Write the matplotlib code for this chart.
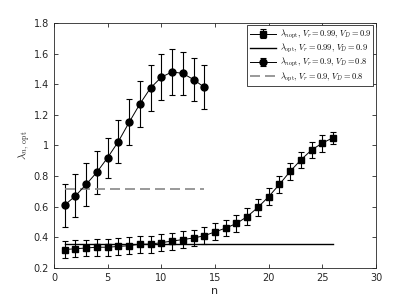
import matplotlib
matplotlib.use("Agg")
import matplotlib.pyplot as plt

plt.rcParams['mathtext.fontset'] = 'cm'
plt.rcParams['font.family'] = 'DejaVu Sans'

# series 1: V_r = 0.99, V_D = 0.9 (squares)
n_sq = list(range(1, 27))
lam_sq = [0.32, 0.325, 0.33, 0.335, 0.335, 0.34, 0.345, 0.355, 0.355, 0.365,
          0.375, 0.385, 0.395, 0.41, 0.435, 0.46, 0.49, 0.535, 0.595, 0.665,
          0.745, 0.83, 0.905, 0.97, 1.015, 1.05]
err_sq = [0.055, 0.055, 0.055, 0.055, 0.055, 0.055, 0.055, 0.055, 0.055, 0.055,
          0.055, 0.055, 0.055, 0.055, 0.055, 0.055, 0.055, 0.055, 0.055, 0.055,
          0.055, 0.055, 0.055, 0.055, 0.055, 0.04]
lam_opt_sq = 0.355

# series 2: V_r = 0.9, V_D = 0.8 (circles)
n_ci = list(range(1, 15))
lam_ci = [0.61, 0.67, 0.745, 0.825, 0.92, 1.025, 1.15, 1.27, 1.375, 1.445,
          1.48, 1.47, 1.43, 1.38]
err_ci = [0.14, 0.14, 0.14, 0.14, 0.13, 0.14, 0.15, 0.15, 0.15, 0.15,
          0.15, 0.14, 0.14, 0.145]
lam_opt_ci = 0.715

fig = plt.figure(figsize=(4.15, 3.01), dpi=100)
ax = fig.add_axes([0.130, 0.110, 0.776, 0.814])

h1 = ax.errorbar(n_sq, lam_sq, yerr=err_sq, color='black', marker='s', markersize=4,
                 linewidth=0.7, elinewidth=0.8, capsize=2.5, capthick=0.8,
                 label=r'$\lambda_{n\mathrm{opt}},\,V_r=0.99,\,V_D=0.9$')
h2, = ax.plot([n_sq[0], n_sq[-1]], [lam_opt_sq, lam_opt_sq], color='black', linewidth=1.0,
              label=r'$\lambda_{\mathrm{opt}},\,V_r=0.99,\,V_D=0.9$')
h3 = ax.errorbar(n_ci, lam_ci, yerr=err_ci, color='black', marker='o', markersize=5,
                 linewidth=0.7, elinewidth=0.8, capsize=2.5, capthick=0.8,
                 label=r'$\lambda_{n\mathrm{opt}},\,V_r=0.9,\,V_D=0.8$')
h4, = ax.plot([n_ci[0], n_ci[-1]], [lam_opt_ci, lam_opt_ci], color='#888888', linewidth=1.2,
              linestyle=(0, (6, 3)),
              label=r'$\lambda_{\mathrm{opt}},\,V_r=0.9,\,V_D=0.8$')

ax.set_xlim(0, 30)
ax.set_ylim(0.2, 1.8)
ax.set_xticks([0, 5, 10, 15, 20, 25, 30])
ax.set_yticks([0.2, 0.4, 0.6, 0.8, 1.0, 1.2, 1.4, 1.6, 1.8])
ax.set_yticklabels(['0.2', '0.4', '0.6', '0.8', '1', '1.2', '1.4', '1.6', '1.8'])
ax.tick_params(direction='in', top=True, right=True, labelsize=7, colors='#262626',
               length=3, width=0.6)
for s in ax.spines.values():
    s.set_linewidth(0.6)
    s.set_color('#262626')

ax.set_xlabel('n', fontsize=8, color='#262626', labelpad=2)
ax.set_ylabel(r'$\lambda_{n,\ \mathrm{opt}}$', fontsize=8, color='#262626', labelpad=1)

leg = ax.legend(handles=[h1, h2, h3, h4], loc='upper right', fontsize=6,
                handlelength=3.2, borderpad=0.3, labelspacing=0.15,
                handletextpad=0.4, fancybox=False, edgecolor='#262626',
                framealpha=1, borderaxespad=0.3)
leg.get_frame().set_linewidth(0.6)

fig.savefig('out.png', dpi=100)
